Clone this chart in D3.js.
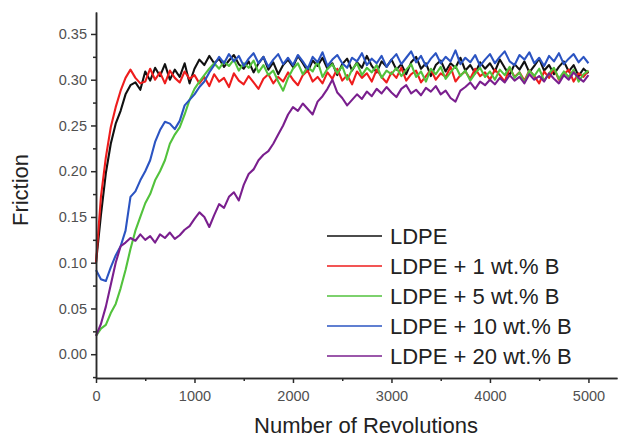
<!DOCTYPE html>
<html lang="en">
<head>
<meta charset="UTF-8" />
<title>Friction vs Number of Revolutions</title>
<script src="https://cdn.jsdelivr.net/npm/d3@7"></script>
<style>
  body { margin: 0; background: #fff; }
  svg { display: block; font-family: "Liberation Sans", Arial, sans-serif; }
  .axis path, .axis line { stroke: #2a2a2a; stroke-width: 1.5; }
  .axis text { fill: #505050; font-size: 14.5px; font-family: "Liberation Sans", Arial, sans-serif; }
</style>
</head>
<body>
<div class="main_div"></div>
<script>
// sampling grid of the curves (every 50 revolutions, 0..5000)
const revs = d3.range(0, 5001, 50);

const ldpe = [0.100,0.152,0.198,0.230,0.252,0.266,0.284,0.294,0.297,0.289,0.309,0.299,0.313,0.304,0.317,0.300,0.311,0.303,0.318,0.296,0.312,
  0.322,0.316,0.326,0.318,0.323,0.314,0.321,0.327,0.317,0.312,0.320,0.308,0.318,0.325,0.311,0.319,0.306,0.316,0.322,0.314,
  0.326,0.318,0.309,0.321,0.315,0.324,0.312,0.318,0.305,0.317,0.323,0.310,0.319,0.313,0.326,0.315,0.308,0.320,0.314,0.322,
  0.311,0.317,0.306,0.319,0.325,0.312,0.318,0.304,0.316,0.321,0.309,0.318,0.313,0.324,0.310,0.316,0.307,0.319,0.312,0.318,
  0.309,0.322,0.313,0.305,0.317,0.311,0.320,0.308,0.315,0.323,0.310,0.316,0.306,0.314,0.320,0.309,0.316,0.304,0.312,0.307];

const b1 = [0.100,0.172,0.215,0.248,0.270,0.288,0.302,0.311,0.302,0.296,0.298,0.312,0.300,0.308,0.296,0.310,0.302,0.297,0.309,0.301,0.305,
  0.296,0.303,0.293,0.306,0.298,0.302,0.292,0.307,0.299,0.295,0.304,0.297,0.290,0.301,0.306,0.296,0.303,0.298,0.308,0.300,
  0.294,0.305,0.310,0.298,0.303,0.296,0.308,0.301,0.312,0.299,0.305,0.295,0.309,0.302,0.307,0.298,0.311,0.303,0.297,0.308,
  0.302,0.313,0.299,0.306,0.310,0.297,0.304,0.311,0.300,0.307,0.303,0.314,0.298,0.305,0.309,0.301,0.312,0.304,0.308,0.300,
  0.311,0.305,0.298,0.313,0.303,0.308,0.299,0.310,0.304,0.296,0.309,0.302,0.312,0.300,0.306,0.311,0.298,0.307,0.303,0.310];

const b5 = [0.020,0.028,0.032,0.045,0.055,0.072,0.092,0.115,0.135,0.150,0.165,0.175,0.190,0.200,0.212,0.230,0.240,0.248,0.262,0.278,0.290,
  0.298,0.305,0.312,0.318,0.312,0.320,0.315,0.322,0.310,0.318,0.313,0.321,0.308,0.316,0.305,0.310,0.298,0.288,0.302,0.312,
  0.318,0.306,0.314,0.309,0.320,0.303,0.312,0.317,0.307,0.315,0.300,0.311,0.318,0.305,0.313,0.308,0.316,0.302,0.310,0.306,
  0.313,0.304,0.311,0.317,0.303,0.309,0.298,0.312,0.306,0.314,0.301,0.308,0.315,0.304,0.310,0.299,0.307,0.313,0.303,0.309,
  0.300,0.311,0.305,0.314,0.302,0.308,0.297,0.310,0.304,0.312,0.299,0.307,0.313,0.301,0.309,0.303,0.311,0.298,0.306,0.310];

const b10 = [0.092,0.082,0.080,0.095,0.108,0.118,0.135,0.172,0.178,0.190,0.200,0.212,0.232,0.245,0.254,0.252,0.246,0.255,0.272,0.278,0.284,
  0.292,0.298,0.308,0.316,0.325,0.318,0.328,0.320,0.326,0.315,0.323,0.329,0.318,0.325,0.314,0.322,0.328,0.317,0.324,0.316,
  0.327,0.320,0.312,0.325,0.319,0.330,0.315,0.322,0.327,0.318,0.313,0.324,0.320,0.329,0.316,0.323,0.318,0.326,0.314,0.322,
  0.328,0.317,0.324,0.331,0.319,0.326,0.315,0.323,0.329,0.318,0.325,0.320,0.332,0.317,0.324,0.319,0.327,0.315,0.322,0.328,
  0.318,0.325,0.331,0.320,0.316,0.327,0.322,0.330,0.318,0.324,0.315,0.326,0.320,0.329,0.317,0.323,0.328,0.319,0.325,0.318];

const b20 = [0.020,0.033,0.052,0.076,0.100,0.118,0.122,0.127,0.124,0.131,0.125,0.129,0.122,0.131,0.127,0.133,0.126,0.130,0.136,0.140,0.148,
  0.155,0.150,0.139,0.152,0.164,0.160,0.172,0.177,0.168,0.185,0.197,0.202,0.212,0.218,0.222,0.230,0.240,0.250,0.262,0.270,
  0.266,0.274,0.268,0.262,0.276,0.282,0.290,0.300,0.286,0.280,0.272,0.278,0.284,0.279,0.287,0.282,0.290,0.285,0.292,0.286,
  0.281,0.290,0.294,0.285,0.289,0.283,0.291,0.287,0.293,0.284,0.288,0.280,0.276,0.288,0.292,0.297,0.290,0.298,0.294,0.300,
  0.295,0.302,0.297,0.305,0.299,0.303,0.296,0.306,0.300,0.304,0.298,0.307,0.301,0.296,0.305,0.300,0.308,0.302,0.298,0.305];

const seriesNames = ["LDPE", "LDPE + 1 wt.% B", "LDPE + 5 wt.% B", "LDPE + 10 wt.% B", "LDPE + 20 wt.% B"];
const seriesValues = [ldpe, b1, b5, b10, b20];
const colors = ["#111111", "#ee1d1d", "#52c23c", "#2b54c2", "#7a1f8e"];

const yTicks = [0.00, 0.05, 0.10, 0.15, 0.20, 0.25, 0.30, 0.35];
const yMinor = [-0.025, 0.025, 0.075, 0.125, 0.175, 0.225, 0.275, 0.325];
const xTicks = [0, 1000, 2000, 3000, 4000, 5000];
const xMinor = [500, 1500, 2500, 3500, 4500];

let width = 626, height = 437;

const x = d3.scaleLinear([0, 5290], [96, 617]);
const y = d3.scaleLinear([-0.026, 0.374], [378, 12]);

const svg = d3.select(".main_div").append("svg")
  .attr("width", width)
  .attr("height", height);

// curves
const line = d3.line().x((d, i) => x(revs[i])).y(d => y(d));
seriesValues.forEach((vals, k) => {
  svg.append("path")
    .datum(vals)
    .attr("fill", "none")
    .attr("stroke", colors[k])
    .attr("stroke-width", 2.1)
    .attr("stroke-linejoin", "round")
    .attr("d", line);
});

// axes
svg.append("g").attr("class", "axis")
  .attr("transform", "translate(0," + 378 + ")")
  .call(d3.axisBottom(x).tickValues(xTicks).tickSize(5).tickPadding(8).tickSizeOuter(0).tickFormat(d3.format("d")));
svg.append("g").attr("class", "axis")
  .attr("transform", "translate(0," + 378 + ")")
  .call(d3.axisBottom(x).tickValues(xMinor).tickSize(3).tickSizeOuter(0).tickFormat(""));

svg.append("g").attr("class", "axis")
  .attr("transform", "translate(96,0)")
  .call(d3.axisLeft(y).tickValues(yTicks).tickSize(5).tickPadding(4).tickSizeOuter(0).tickFormat(d3.format(".2f")));
svg.append("g").attr("class", "axis")
  .attr("transform", "translate(96,0)")
  .call(d3.axisLeft(y).tickValues(yMinor).tickSize(3).tickSizeOuter(0).tickFormat(""));

// axis titles
svg.append("text")
  .attr("x", 366).attr("y", 433)
  .attr("text-anchor", "middle")
  .style("font-size", "22px").style("fill", "#222")
  .text("Number of Revolutions");

svg.append("text")
  .attr("transform", "translate(28,190) rotate(-90)")
  .attr("text-anchor", "middle")
  .style("font-size", "22px").style("fill", "#222")
  .text("Friction");

// legend
const legend = svg.append("g").attr("transform", "translate(327,236)");
seriesNames.forEach((name, k) => {
  const row = legend.append("g").attr("transform", "translate(0," + (k * 30) + ")");
  row.append("line")
    .attr("x1", 0).attr("x2", 55).attr("y1", 0).attr("y2", 0)
    .attr("stroke", colors[k]).attr("stroke-width", 1.3);
  row.append("text")
    .attr("x", 63).attr("y", 8)
    .style("font-size", "22px").style("fill", "#222")
    .text(name);
});
</script>
</body>
</html>
